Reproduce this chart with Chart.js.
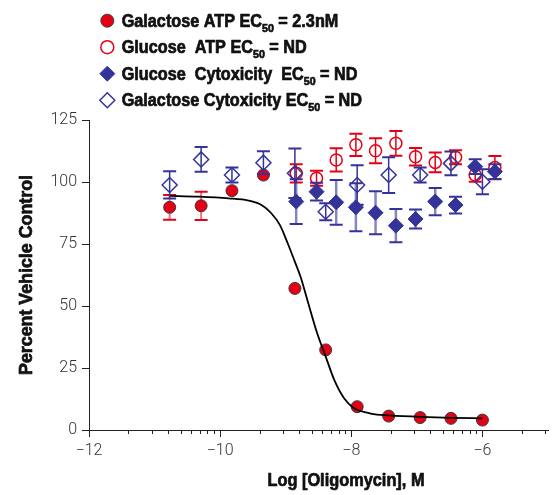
<!DOCTYPE html>
<html><head><meta charset="utf-8">
<script src="https://cdn.jsdelivr.net/npm/chart.js@4"></script>
<style>html,body{margin:0;padding:0;background:#fff;}canvas{display:block;}</style>
</head><body>
<canvas id="c" width="557" height="495"></canvas>
<script>
// ---- data ----
const galX = [-10.77, -10.29, -9.82, -9.34, -8.86, -8.39, -7.91, -7.43, -6.95, -6.48, -6.00];
const gluX = [-8.84, -8.53, -8.23, -7.93, -7.63, -7.32, -7.02, -6.72, -6.41, -6.11, -5.81];

const galAtp    = [89.8, 90.4, 96.5, 102.8, 57.1, 32.3, 9.4, 5.6, 5.0, 4.7, 4.0];
const galAtpErr = [5, 5.7, 0, 0, 0, 0, 0, 0, 0, 0, 0];

const gluAtp    = [103.5, 101.5, 108.9, 115.0, 112.6, 115.6, 110.2, 107.9, 110.0, 102.8, 105.8];
const gluAtpErr = [3.7, 3, 4.7, 4.5, 5, 5, 3.5, 4, 2.8, 2.7, 4.7];

const gluCyto    = [92.1, 96.1, 91.8, 89.8, 87.6, 82.4, 85.1, 92.1, 90.7, 106.2, 104.2];
const gluCytoErr = [9, 3.6, 9, 9.7, 8.7, 6.7, 3.8, 5.5, 3.4, 3, 3];

const galCyto    = [98.8, 109.1, 102.8, 107.8, 103.5, 88.0, 98.8, 102.8, 102.8, 107.5, 100.1];
const galCytoErr = [5.5, 5, 3, 4.6, 10, 3.4, 8, 7.2, 3, 4.8, 5];

const curveX = [-10.78, -10.33, -9.87, -9.57, -9.37, -9.22, -9.09, -8.97, -8.87, -8.77, -8.67, -8.52, -8.39, -8.26, -8.11, -7.96, -7.76, -7.61, -7.44, -6.95, -6.47, -6.00];
const curveY = [94.4, 94.1, 93.4, 92.5, 90.7, 87.4, 82.7, 75.3, 68.5, 61.5, 52.4, 39.0, 29.6, 20.2, 12.8, 8.8, 7.0, 6.2, 5.9, 5.3, 4.9, 4.7];

const xTickValues = [-12, -10, -8, -6];
const yTickValues = [0, 25, 50, 75, 100, 125];

const legendMain = ['Galactose ATP EC', 'Glucose  ATP EC', 'Glucose  Cytoxicity  EC', 'Galactose Cytoxicity EC'];
const legendSub  = ['50', '50', '50', '50'];
const legendRest = [' = 2.3nM', ' = ND', ' = ND', ' = ND'];
const xTitle = 'Log [Oligomycin], M';
const yTitle = 'Percent Vehicle Control';

// ---- styling ----
const RED = '#e60016', BLUE = '#333399';
const BOLD = '"Liberation Sans", Arial, sans-serif';
const pts = (xs, ys) => xs.map((x, i) => ({x, y: ys[i]}));

// draws text squeezed horizontally (condensed heavy face look); returns advance width
function condText(ctx, text, x, y, sx, rot) {
  ctx.save();
  ctx.translate(x, y);
  if (rot) ctx.rotate(rot);
  ctx.scale(sx, 1);
  ctx.fillText(text, 0, 0);
  ctx.lineWidth = 0.7; ctx.strokeStyle = ctx.fillStyle; ctx.lineJoin = 'round';
  ctx.strokeText(text, 0, 0);
  const w = ctx.measureText(text).width * sx;
  ctx.restore();
  return w;
}

const errorBars = {
  id: 'errorBars',
  beforeDatasetDraw(chart, args) {
    const ds = chart.data.datasets[args.index];
    if (!ds.err) return;
    const xs = chart.scales.x, ys = chart.scales.y, ctx = chart.ctx;
    ctx.save();
    ds.data.forEach((p, i) => {
      const e = ds.err[i];
      if (!e) return;
      const px = xs.getPixelForValue(p.x);
      const top = ys.getPixelForValue(p.y + e), bot = ys.getPixelForValue(p.y - e);
      ctx.strokeStyle = ds.errLine; ctx.lineWidth = ds.errLineW;
      ctx.beginPath(); ctx.moveTo(px, top); ctx.lineTo(px, bot); ctx.stroke();
      ctx.strokeStyle = ds.errCap; ctx.lineWidth = 2;
      ctx.beginPath();
      ctx.moveTo(px - 6.5, top); ctx.lineTo(px + 6.5, top);
      ctx.moveTo(px - 6.5, bot); ctx.lineTo(px + 6.5, bot);
      ctx.stroke();
    });
    ctx.restore();
  }
};

const extras = {
  id: 'extras',
  afterDraw(chart) {
    const ctx = chart.ctx, xs = chart.scales.x, ys = chart.scales.y;
    ctx.save();
    // minor log-style ticks on x axis
    ctx.strokeStyle = '#222'; ctx.lineWidth = 1;
    const base = ys.getPixelForValue(0);
    ctx.beginPath();
    xTickValues.forEach(a => {
      for (let k = 2; k <= 9; k++) {
        const v = a + 2 * Math.log10(k);
        if (v > xs.max) continue;
        const px = Math.round(xs.getPixelForValue(v)) + 0.5;
        ctx.moveTo(px, base); ctx.lineTo(px, base + 4);
      }
    });
    ctx.stroke();

    ctx.fillStyle = '#111';
    // x title
    ctx.font = 'bold 17.5px ' + BOLD;
    ctx.textBaseline = 'middle'; ctx.textAlign = 'left';
    let sxX = 157 / ctx.measureText(xTitle).width;
    condText(ctx, xTitle, 346 - 78.5, 481, sxX);
    // y title (rotated)
    let sxY = 200 / ctx.measureText(yTitle).width;
    condText(ctx, yTitle, 27, 375, sxY, -Math.PI / 2);

    // legend
    ctx.textBaseline = 'alphabetic';
    ctx.font = 'bold 17.5px ' + BOLD;
    let natural = ctx.measureText(legendMain[0] + legendRest[0]).width;
    ctx.font = 'bold 11.5px ' + BOLD;
    natural += ctx.measureText(legendSub[0]).width;
    const sxL = 216.6 / natural;
    const order = [0, 2, 3, 4];
    order.forEach((di, row) => {
      const ds = chart.data.datasets[di];
      const cy = 20.7 + row * 26.5, cx = 107.3;
      ctx.beginPath();
      if (ds.pointStyle === 'circle') {
        ctx.arc(cx, cy, 6.5, 0, Math.PI * 2);
      } else {
        const r = 7.5;
        ctx.moveTo(cx - r, cy); ctx.lineTo(cx, cy - r); ctx.lineTo(cx + r, cy); ctx.lineTo(cx, cy + r); ctx.closePath();
      }
      if (ds.pointBackgroundColor !== 'rgba(0,0,0,0)') { ctx.fillStyle = ds.pointBackgroundColor; ctx.fill(); }
      ctx.strokeStyle = ds.pointBorderColor; ctx.lineWidth = ds.pointBorderWidth; ctx.stroke();
      ctx.fillStyle = '#111';
      let tx = 121.7;
      const by = cy + 6.2;
      ctx.font = 'bold 17.5px ' + BOLD;
      tx += condText(ctx, legendMain[row], tx, by, sxL);
      ctx.font = 'bold 11.5px ' + BOLD;
      tx += condText(ctx, legendSub[row], tx, by + 5, sxL);
      ctx.font = 'bold 17.5px ' + BOLD;
      condText(ctx, legendRest[row], tx, by, sxL);
    });
    ctx.restore();
  }
};

new Chart(document.getElementById('c'), {
  type: 'scatter',
  data: {
    datasets: [
      { label: 'Galactose ATP', data: pts(galX, galAtp), err: galAtpErr, order: 5,
        errLine: 'rgba(230,0,22,0.55)', errLineW: 2, errCap: RED,
        pointStyle: 'circle', pointRadius: 6, pointBackgroundColor: RED, pointBorderColor: '#3a3a3a', pointBorderWidth: 1 },
      { label: 'Fit', data: pts(curveX, curveY), order: 4, showLine: true, pointRadius: 0,
        borderColor: '#000', borderWidth: 1.8, cubicInterpolationMode: 'monotone', fill: false },
      { label: 'Glucose ATP', data: pts(gluX, gluAtp), err: gluAtpErr, order: 3,
        errLine: RED, errLineW: 1.5, errCap: RED,
        pointStyle: 'circle', pointRadius: 6, pointBackgroundColor: 'rgba(0,0,0,0)', pointBorderColor: RED, pointBorderWidth: 1.5 },
      { label: 'Glucose Cytoxicity', data: pts(gluX, gluCyto), err: gluCytoErr, order: 2,
        errLine: 'rgba(51,51,153,0.6)', errLineW: 2.5, errCap: BLUE,
        pointStyle: 'rectRot', pointRadius: 7.5, pointBackgroundColor: BLUE, pointBorderColor: BLUE, pointBorderWidth: 1 },
      { label: 'Galactose Cytoxicity', data: pts(galX, galCyto), err: galCytoErr, order: 1,
        errLine: BLUE, errLineW: 1.5, errCap: BLUE,
        pointStyle: 'rectRot', pointRadius: 7.5, pointBackgroundColor: 'rgba(0,0,0,0)', pointBorderColor: BLUE, pointBorderWidth: 1.5 }
    ]
  },
  options: {
    responsive: false, animation: false, devicePixelRatio: 1,
    layout: { padding: { top: 120, right: 4, left: 0, bottom: 0 } },
    plugins: { legend: { display: false }, tooltip: { enabled: false } },
    elements: { point: { hoverRadius: 6 } },
    scales: {
      x: {
        type: 'linear', min: -12, max: -5, position: 'bottom',
        afterBuildTicks: s => { s.ticks = xTickValues.map(v => ({value: v})); },
        afterFit: s => { s.height = 65; },
        ticks: { color: '#333', font: { family: 'Roboto, "Liberation Sans", sans-serif', size: 16, weight: '300' }, padding: 4,
                 callback: v => v < 0 ? '\u2212' + Math.abs(v) : String(v) },
        grid: { display: true, drawOnChartArea: false, drawTicks: true, tickLength: 7, tickColor: '#222' },
        border: { display: true, color: '#222', width: 1 }
      },
      y: {
        type: 'linear', min: 0, max: 125, position: 'left',
        afterBuildTicks: s => { s.ticks = yTickValues.map(v => ({value: v})); },
        afterFit: s => { s.width = 89; },
        ticks: { color: '#333', font: { family: 'Roboto, "Liberation Sans", sans-serif', size: 16, weight: '300' }, padding: 5 },
        grid: { display: true, drawOnChartArea: false, drawTicks: true, tickLength: 7, tickColor: '#222' },
        border: { display: true, color: '#222', width: 1 },
        title: { display: false, text: yTitle }
      }
    }
  },
  plugins: [errorBars, extras]
});
</script>
</body></html>
